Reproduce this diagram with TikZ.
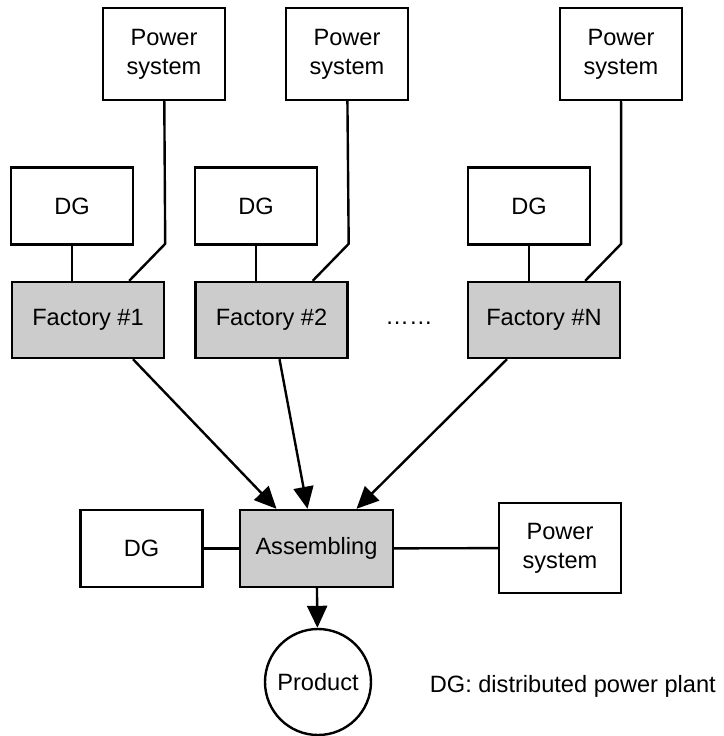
\documentclass[tikz,border=0pt]{standalone}
\usepackage{fontspec}
\setmainfont{Liberation Sans}
\usetikzlibrary{arrows.meta,positioning,calc}

\begin{document}
\begin{tikzpicture}[x=0.5pt,y=-0.5pt,font=\fontsize{11.8}{14.5}\selectfont,line width=1.2pt,
  whitebox/.style={draw,align=center,inner sep=0pt,minimum width=61pt},
  graybox/.style={draw,fill=black!20,inner sep=0pt,minimum width=76pt,minimum height=38pt},
  flow/.style={-{Triangle[length=11pt,width=10pt]}}]
  \useasboundingbox (0,0) rectangle (724,736);
  % supply side of each factory
  \node[whitebox,minimum height=46pt] (ps1) at (164,54) {Power\\system};
  \node[whitebox,minimum height=46pt] (ps2) at (347,54) {Power\\system};
  \node[whitebox,minimum height=46pt] (psn) at (621,54) {Power\\system};
  \node[whitebox,minimum height=38.5pt] (dg1) at (72,206) {DG};
  \node[whitebox,minimum height=38.5pt] (dg2) at (256,206) {DG};
  \node[whitebox,minimum height=38.5pt] (dgn) at (529,206) {DG};
  \node[graybox] (f1) at (88,320) {Factory \#1};
  \node[graybox] (f2) at (271.5,320) {Factory \#2};
  \node[graybox] (fn) at (544,320) {Factory \#N};
  \node (dots) at (409,323) {……};
  \draw (dg1) -- (dg1 |- f1.north);
  \draw (dg2) -- (dg2 |- f2.north);
  \draw (dgn) -- (dgn |- fn.north);
  \draw (ps1) -- ([yshift=18.5pt]f1.north east) -- ([xshift=-18pt]f1.north east);
  \draw (ps2) -- ([yshift=18.5pt]f2.north east) -- ([xshift=-18pt]f2.north east);
  \draw (psn) -- ([yshift=18.5pt]fn.north east) -- ([xshift=-18pt]fn.north east);
  % assembling stage
  \node[graybox,minimum width=76.5pt,minimum height=38.5pt] (asm) at (316.5,548.5) {Assembling};
  \node[whitebox,minimum height=38.5pt] (dga) at (141.5,548.5) {DG};
  \node[whitebox,minimum height=45pt] (psa) at (560,548) {Power\\system};
  \node[draw,circle,inner sep=0pt,minimum size=53pt] (prod) at (318,682) {Product};
  \draw (dga) -- (asm);
  \draw (asm) -- (psa);
  \draw[flow] ([xshift=22.5pt]f1.south) -- ([xshift=-20pt]asm.north);
  \draw[flow] ([xshift=4pt]f2.south) -- ([xshift=-4.5pt]asm.north);
  \draw[flow] ([xshift=-18.5pt]fn.south) -- ([xshift=20pt]asm.north);
  \draw[flow] (asm) -- (prod);
  \node[anchor=west] (legend) at (422,686) {DG: distributed power plant};
\end{tikzpicture}
\end{document}
